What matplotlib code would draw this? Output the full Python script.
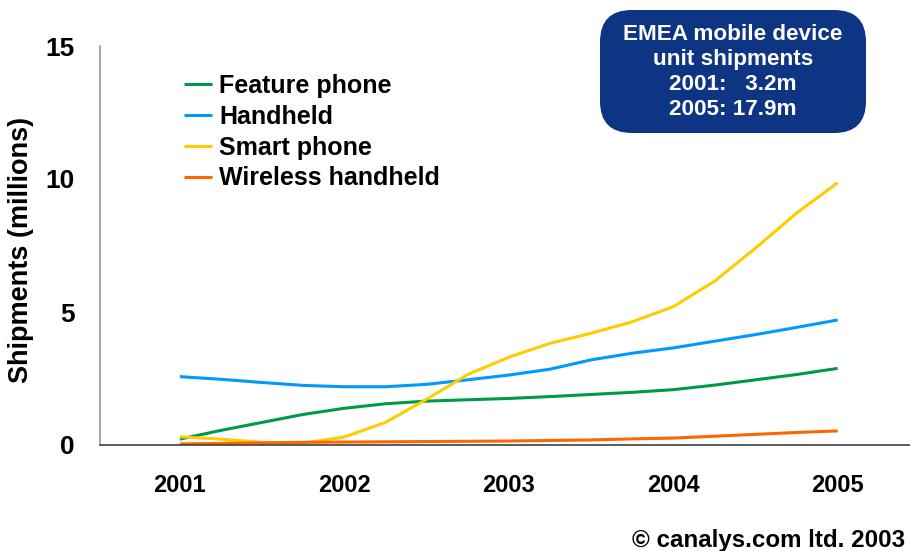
import numpy as np
import matplotlib
matplotlib.use('Agg')
import matplotlib.pyplot as plt
from matplotlib.patches import FancyBboxPatch

plt.rcParams['font.family'] = ['Liberation Sans', 'DejaVu Sans']
plt.rcParams['font.weight'] = 'bold'

# quarterly readings, 2001 to 2005
quarters = [2001.0, 2001.25, 2001.5, 2001.75, 2002.0, 2002.25, 2002.5, 2002.75,
            2003.0, 2003.25, 2003.5, 2003.75, 2004.0, 2004.25, 2004.5, 2004.75, 2005.0]
feature_phone = [0.22, 0.55, 0.85, 1.15, 1.38, 1.55, 1.65, 1.70,
                 1.75, 1.82, 1.90, 1.98, 2.08, 2.25, 2.45, 2.65, 2.88]
handheld = [2.57, 2.47, 2.35, 2.24, 2.19, 2.19, 2.28, 2.45,
            2.63, 2.85, 3.20, 3.45, 3.65, 3.90, 4.15, 4.42, 4.70]
smart_phone = [0.31, 0.22, 0.10, 0.07, 0.30, 0.85, 1.72, 2.65,
               3.30, 3.82, 4.20, 4.63, 5.20, 6.15, 7.40, 8.72, 9.86]
wireless_handheld = [0.04, 0.06, 0.08, 0.10, 0.11, 0.12, 0.13, 0.14,
                     0.15, 0.17, 0.19, 0.23, 0.26, 0.33, 0.40, 0.47, 0.53]

series = [('Feature phone', feature_phone, '#00994C'),
          ('Handheld', handheld, '#0099FF'),
          ('Smart phone', smart_phone, '#FFCC00'),
          ('Wireless handheld', wireless_handheld, '#FF6600')]

years = [2001, 2002, 2003, 2004, 2005]
box_lines = ['EMEA mobile device', 'unit shipments', '2001:   3.2m', '2005: 17.9m']

W, H = 910, 551
fig = plt.figure(figsize=(W / 100, H / 100), dpi=100)
ax = fig.add_axes([100 / W, 1 - 445 / H, 1 - 100 / W, (445 - 46) / H])

for name, vals, col in series:
    ax.plot(quarters, vals, color=col, lw=2.2, label=name, solid_capstyle='butt')

ax.set_xlim(2000.514, 2005.44)
ax.set_ylim(0, 15)
ax.set_xticks(years)
ax.set_xticklabels([str(y) for y in years])
ax.set_yticks([0, 5, 10, 15])
ax.tick_params(axis='both', length=0)
ax.tick_params(axis='x', pad=21, labelsize=17)
ax.tick_params(axis='y', pad=18, labelsize=19)
ax.spines['top'].set_visible(False)
ax.spines['right'].set_visible(False)
ax.spines['left'].set_color('#999999')
ax.spines['bottom'].set_color('#404040')
ax.spines['left'].set_linewidth(1.2)
ax.spines['bottom'].set_linewidth(1.2)

fig.text(21 / W, 1 - 250 / H, 'Shipments (millions)', rotation=90, fontsize=19.5,
         ha='center', va='center')

leg = ax.legend(loc='upper left', bbox_to_anchor=(184 / W, 1 - 74 / H),
                bbox_transform=fig.transFigure, frameon=False, fontsize=18,
                handlelength=1.1, handletextpad=0.3, labelspacing=0.27,
                borderpad=0, borderaxespad=0)

box = FancyBboxPatch((600 / W, 1 - 133 / H), 266 / W, 123 / H,
                     boxstyle='round,pad=0,rounding_size=0.035',
                     transform=fig.transFigure, facecolor='#0E3484',
                     edgecolor='none', mutation_aspect=W / H)
fig.patches.append(box)
for i, line in enumerate(box_lines):
    fig.text(733 / W, 1 - (34 + 25.3 * i) / H, line, color='white', fontsize=16.2,
             ha='center', va='center')

fig.text(905 / W, 1 - 540 / H, '\u00a9 canalys.com ltd. 2003', fontsize=17.4,
         ha='right', va='center')

fig.savefig('out.png', dpi=100)
